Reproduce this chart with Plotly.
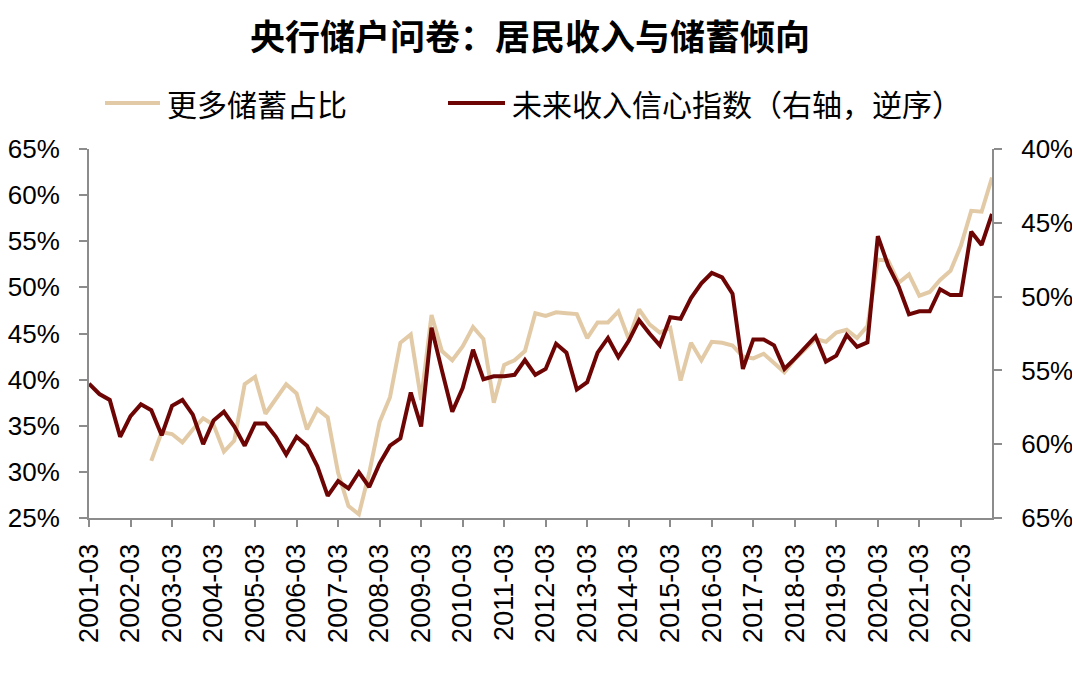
import plotly.graph_objects as go

# Quarter labels 2001-03 ... 2022-12
quarters = [f"{y}-{m:02d}" for y in range(2001, 2023) for m in (3, 6, 9, 12)]

# 更多储蓄占比 (left axis, %)
savings = [None, None, None, None, None, None,
           31.2, 34.3, 34.1, 33.2, 34.6, 35.8, 35.1, 32.2, 33.4, 39.5,
           40.3, 36.3, 37.9, 39.5, 38.5, 34.6, 36.8, 35.9, 29.9, 26.3,
           25.4, 29.9, 35.4, 38.1, 44.0, 44.9, 37.8, 47.0, 43.1, 42.1,
           43.6, 45.7, 44.4, 37.5, 41.6, 42.1, 43.1, 47.2, 46.9, 47.3,
           47.2, 47.1, 44.5, 46.2, 46.2, 47.4, 44.4, 47.6, 46.0, 45.1,
           45.6, 39.9, 44.0, 42.1, 44.1, 44.0, 43.7, 42.5, 42.3, 42.8,
           41.8, 40.8, 42.2, 43.3, 44.4, 44.1, 45.1, 45.4, 44.5, 45.8,
           53.0, 52.9, 50.5, 51.4, 49.1, 49.5, 50.8, 51.8, 54.5, 58.3,
           58.2, 61.9]

# 未来收入信心指数 (right axis, reversed, %)
income = [55.9, 56.6, 57.0, 59.5, 58.1, 57.3, 57.7, 59.4, 57.4, 57.0,
          58.0, 60.0, 58.4, 57.8, 58.8, 60.1, 58.6, 58.6, 59.5, 60.7,
          59.5, 60.1, 61.5, 63.5, 62.5, 63.0, 61.9, 62.9, 61.3, 60.1,
          59.6, 56.5, 58.8, 52.1, 55.0, 57.8, 56.2, 53.6, 55.6, 55.4,
          55.4, 55.3, 54.3, 55.3, 54.9, 53.2, 53.8, 56.3, 55.8, 53.8,
          52.8, 54.1, 53.0, 51.6, 52.5, 53.3, 51.4, 51.5, 50.1, 49.1,
          48.4, 48.7, 49.8, 54.9, 52.9, 52.9, 53.3, 54.9, 54.2, 53.4,
          52.7, 54.4, 54.0, 52.6, 53.4, 53.1, 45.9, 47.9, 49.3, 51.2,
          51.0, 51.0, 49.5, 49.9, 49.9, 45.6, 46.5, 44.4]

tick_labels = quarters[::4]

left_ticks = [25, 30, 35, 40, 45, 50, 55, 60, 65]
right_ticks = [40, 45, 50, 55, 60, 65]

name_savings = "更多储蓄占比"
name_income = "未来收入信心指数（右轴，逆序）"
title_text = "央行储户问卷：居民收入与储蓄倾向"

c_light = "#E3CAA6"
c_dark = "#6E0505"
axis_gray = "#8C8C8C"
num_font = "Liberation Sans, Arial, sans-serif"
cjk_font = "Noto Sans CJK SC, sans-serif"

fig = go.Figure()
fig.add_trace(go.Scatter(x=quarters, y=savings, mode="lines", name=name_savings,
                         line=dict(color=c_light, width=4), yaxis="y",
                         connectgaps=False, showlegend=False))
fig.add_trace(go.Scatter(x=quarters, y=income, mode="lines", name=name_income,
                         line=dict(color=c_dark, width=4), yaxis="y2",
                         showlegend=False))

# page has an 8px body margin; size the figure to fit the 1080x677 window
OFF = 8
W, H = 1072, 669
L, R, T, B = 81, 88, 141, 159
pw, ph = W - L - R, H - T - B


def px_x(page_px):
    return (page_px - OFF - L) / pw


def px_y(page_py):
    return (H - B - (page_py - OFF)) / ph


# manual legend
legend_y = 103
legend_items = [(105, 160, 165, c_light, name_savings),
                (448, 505, 510, c_dark, name_income)]
shapes = []
annotations = []
for x0, x1, xt, col, txt in legend_items:
    shapes.append(dict(type="line", xref="paper", yref="paper",
                       x0=px_x(x0), x1=px_x(x1), y0=px_y(legend_y), y1=px_y(legend_y),
                       line=dict(color=col, width=4)))
    annotations.append(dict(text=txt, xref="paper", yref="paper",
                            x=px_x(xt), y=px_y(legend_y), xanchor="left", yanchor="middle",
                            showarrow=False,
                            font=dict(family=cjk_font, size=30, color="#000000")))

fig.update_layout(
    width=W, height=H,
    margin=dict(l=L, r=R, t=T, b=B, autoexpand=False),
    paper_bgcolor="white", plot_bgcolor="white",
    title=dict(text=f"<b>{title_text}</b>", x=(530 - OFF) / W, xanchor="center",
               y=1 - (38 - OFF) / H, yanchor="middle",
               font=dict(family=cjk_font, size=35, color="#000000")),
    shapes=shapes,
    annotations=annotations,
    xaxis=dict(type="category", range=[0, len(quarters) - 1], automargin=False,
               tickmode="array", tickvals=tick_labels, ticktext=tick_labels,
               tickangle=-90, ticks="outside", ticklen=7, tickwidth=2,
               tickcolor=axis_gray, showline=True, linecolor=axis_gray, linewidth=2,
               showgrid=False, zeroline=False, ticklabelstandoff=6,
               tickfont=dict(family=num_font, size=27, color="#000000")),
    yaxis=dict(range=[25, 65], tickmode="array", tickvals=left_ticks, automargin=False,
               ticktext=[f"{v}%" for v in left_ticks],
               ticks="outside", ticklen=8, tickwidth=2, tickcolor=axis_gray,
               showline=True, linecolor=axis_gray, linewidth=2,
               showgrid=False, zeroline=False, ticklabelstandoff=14,
               tickfont=dict(family=num_font, size=26, color="#000000")),
    yaxis2=dict(range=[65, 40], overlaying="y", side="right", automargin=False,
                tickmode="array", tickvals=right_ticks,
                ticktext=[f"{v}%" for v in right_ticks],
                ticks="outside", ticklen=8, tickwidth=2, tickcolor=axis_gray,
                showline=True, linecolor=axis_gray, linewidth=2,
                showgrid=False, zeroline=False, ticklabelstandoff=14,
                tickfont=dict(family=num_font, size=26, color="#000000")),
)

fig.write_html("out.html")
